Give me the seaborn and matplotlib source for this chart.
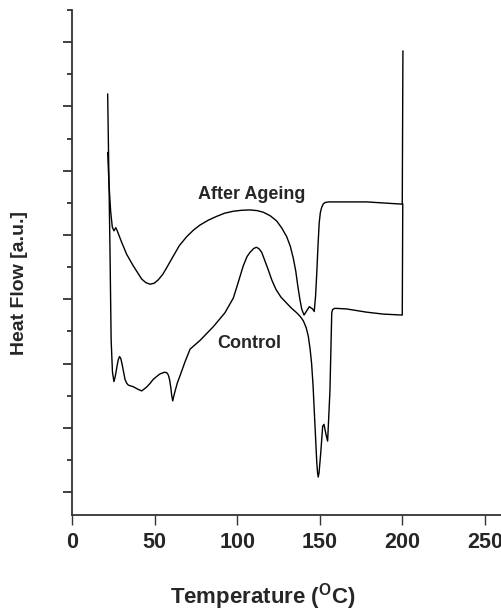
import numpy as np
import pandas as pd
import matplotlib
matplotlib.use("Agg")
import matplotlib.pyplot as plt
import seaborn as sns

# ---- data ----
aged_T = [21.6, 22.4, 23.4, 24.4, 25.4, 26.5, 27.4, 30.1, 33.1, 37.1, 42.2, 44.7,
          47.2, 49.8, 52.3, 55.0, 57.3, 61.3, 65.0, 69.5, 73.5, 77.5, 82.5, 87.6,
          92.5, 97.7, 102.8, 107.8, 112.0, 115.8, 120.0, 123.9, 127.0, 130.0,
          132.2, 134.0, 135.5, 136.7, 138.0, 139.1, 140.5, 142.1, 143.7, 145.7,
          146.7, 147.5, 148.2, 149.0, 149.7, 150.4, 151.2, 152.2, 153.2, 155.5,
          158.2, 178.4, 200.0, 200.4]
aged_H = [10.57, 9.59, 8.74, 8.25, 8.13, 8.23, 8.13, 7.77, 7.40, 7.04, 6.63, 6.52,
          6.47, 6.50, 6.61, 6.78, 6.98, 7.34, 7.67, 7.95, 8.15, 8.31, 8.46, 8.58,
          8.68, 8.74, 8.77, 8.78, 8.76, 8.71, 8.60, 8.44, 8.22, 7.95,
          7.65, 7.28, 6.88, 6.43, 6.00, 5.70, 5.51, 5.64, 5.77, 5.70,
          5.62, 6.10, 6.79, 7.70, 8.38, 8.70, 8.86, 8.97, 9.01, 9.03,
          9.03, 9.03, 8.96, 13.73]

ctrl_T = [21.6, 22.1, 23.0, 23.7, 24.5, 25.4, 26.2, 27.1, 28.0, 28.8, 29.6, 30.3,
          31.2, 32.1, 33.0, 34.1, 37.1, 40.0, 42.2, 45.2, 47.2, 49.2, 51.3, 53.3,
          56.0, 57.3, 58.3, 59.1, 59.8, 60.4, 61.0, 61.7, 62.4, 63.8, 65.4, 68.4,
          71.5, 77.5, 85.6, 92.6, 97.7, 100.5, 103.7, 106.0, 107.8, 110.0, 111.7,
          113.3, 114.9, 116.8, 118.9, 121.0, 123.5, 126.5, 130.0, 133.0, 136.1,
          138.3, 140.1, 141.8, 143.1, 144.2, 145.1, 146.0, 146.7, 147.5, 148.2,
          148.7, 149.1, 149.6, 150.1, 150.6, 151.8, 152.6, 153.8, 154.8, 156.2,
          157.3, 157.8, 159.2, 166.3, 178.4, 188.5, 200.0, 200.3]
ctrl_H = [12.39, 10.65, 7.54, 4.74, 3.74, 3.44, 3.60, 3.87, 4.12, 4.22, 4.15, 3.99,
          3.75, 3.51, 3.40, 3.33, 3.28, 3.20, 3.15, 3.27, 3.38, 3.51, 3.60, 3.68,
          3.73, 3.72, 3.65, 3.50, 3.27, 3.00, 2.84, 3.00, 3.14, 3.40, 3.62, 4.05,
          4.45, 4.72, 5.15, 5.58, 6.04, 6.50, 7.04, 7.33, 7.46, 7.58, 7.62,
          7.57, 7.46, 7.20, 6.91, 6.60, 6.31, 6.07, 5.88, 5.72, 5.58,
          5.46, 5.33, 5.12, 4.85, 4.45, 4.00, 3.30, 2.54, 1.70, 0.95,
          0.60, 0.47, 0.60, 0.90, 1.20, 2.05, 2.11, 1.80, 1.59, 3.14,
          5.58, 5.68, 5.72, 5.70, 5.60, 5.54, 5.51, 8.97]

x_ticks = [0, 50, 100, 150, 200, 250]
series_names = ["After Ageing", "Control"]

df = pd.concat([
    pd.DataFrame({"T": aged_T, "H": aged_H, "sample": series_names[0]}),
    pd.DataFrame({"T": ctrl_T, "H": ctrl_H, "sample": series_names[1]}),
], ignore_index=True)

sns.set_style("ticks")
plt.rcParams["font.family"] = ["Liberation Sans", "DejaVu Sans"]
plt.rcParams["font.weight"] = "bold"
plt.rcParams["mathtext.fontset"] = "custom"
plt.rcParams["mathtext.rm"] = "Liberation Sans:bold"
plt.rcParams["mathtext.it"] = "Liberation Sans:bold"
plt.rcParams["mathtext.bf"] = "Liberation Sans:bold"

fig = plt.figure(figsize=(5.02, 6.15), dpi=100)
ax = fig.add_axes([72 / 502, 1 - 515 / 615, 430 / 502, 505 / 615])

sns.lineplot(data=df, x="T", y="H", units="sample", estimator=None, sort=False,
             color="black", linewidth=1.0, ax=ax, legend=False)

ax.set_xlim(0, 260.4)
ax.set_ylim(-0.71, 15)
ax.set_xticks(x_ticks)
ax.set_xticklabels([str(t) for t in x_ticks], fontsize=15.5, fontweight="bold")
ax.set_yticks(np.arange(0, 15, 2))
ax.set_yticks(np.arange(1, 16, 2), minor=True)
ax.set_yticklabels([])

for s in ["top", "right"]:
    ax.spines[s].set_visible(False)
for s in ["left", "bottom"]:
    ax.spines[s].set_linewidth(1.3)
    ax.spines[s].set_color("#333333")

ax.tick_params(axis="x", which="major", direction="out", length=7, width=1.0,
               color="#333333", pad=5)
ax.tick_params(axis="y", which="major", direction="out", length=6.3, width=1.3,
               color="#333333")
ax.tick_params(axis="y", which="minor", direction="out", length=3.8, width=1.3,
               color="#333333")

ax.set_xlabel(r"Temperature ($^{\mathrm{O}}$C)", fontsize=16, fontweight="bold")
ax.set_ylabel("Heat Flow [a.u.]", fontsize=14, fontweight="bold")
ax.xaxis.set_label_coords((263 - 72) / 430, (515 - 581) / 505)
ax.yaxis.set_label_coords((28 - 72) / 430, (515 - 283) / 505)

ax.text(109.0, 9.25, "After Ageing", ha="center", va="center",
        fontsize=13, fontweight="bold")
ax.text(107.2, 4.64, "Control", ha="center", va="center",
        fontsize=13, fontweight="bold")

fig.savefig("out.png", dpi=100)
